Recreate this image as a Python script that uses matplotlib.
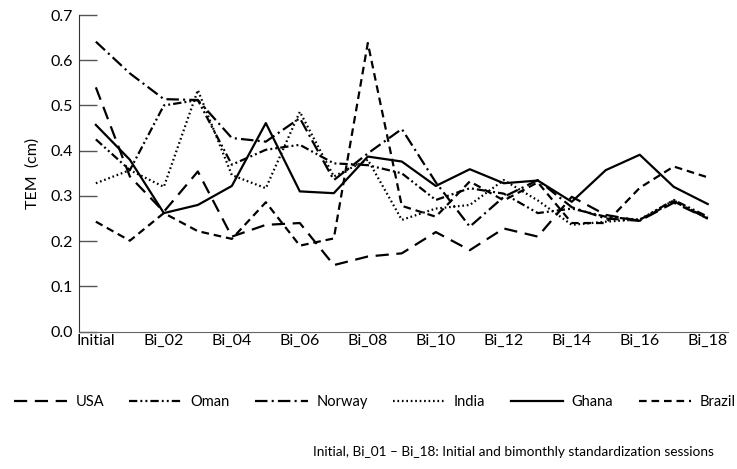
import matplotlib
matplotlib.use("Agg")
import matplotlib.pyplot as plt

plt.rcParams['font.family'] = ['Lato', 'DejaVu Sans']
plt.rcParams['lines.scale_dashes'] = False

sessions = ["Initial"] + [f"Bi_{i:02d}" for i in range(1, 19)]
tick_labels = ["Initial", "Bi_02", "Bi_04", "Bi_06", "Bi_08", "Bi_10", "Bi_12", "Bi_14", "Bi_16", "Bi_18"]

usa    = [0.540, 0.343, 0.265, 0.354, 0.210, 0.236, 0.240, 0.147, 0.166, 0.173, 0.220, 0.180, 0.228, 0.210, 0.298, 0.258, 0.245, 0.285, 0.250]
oman   = [0.425, 0.357, 0.500, 0.512, 0.369, 0.402, 0.413, 0.372, 0.368, 0.350, 0.291, 0.317, 0.305, 0.262, 0.272, 0.254, 0.247, 0.291, 0.254]
norway = [0.641, 0.571, 0.514, 0.512, 0.428, 0.420, 0.472, 0.335, 0.394, 0.448, 0.330, 0.232, 0.298, 0.335, 0.275, 0.250, 0.245, 0.288, 0.250]
india  = [0.328, 0.357, 0.320, 0.534, 0.346, 0.317, 0.486, 0.343, 0.380, 0.247, 0.272, 0.280, 0.335, 0.290, 0.236, 0.243, 0.248, 0.290, 0.250]
ghana  = [0.457, 0.380, 0.262, 0.280, 0.322, 0.461, 0.310, 0.306, 0.387, 0.376, 0.322, 0.359, 0.328, 0.334, 0.287, 0.357, 0.391, 0.320, 0.282]
brazil = [0.243, 0.201, 0.262, 0.222, 0.205, 0.286, 0.190, 0.206, 0.638, 0.278, 0.254, 0.332, 0.290, 0.330, 0.240, 0.240, 0.318, 0.365, 0.341]

series = [
    ("USA", usa, (0, (9.5, 5.5))),
    ("Oman", oman, (0, (6, 2.2, 1.4, 2.2, 1.4, 2.2))),
    ("Norway", norway, (0, (9, 3, 1.5, 3))),
    ("India", india, (0, (1.2, 2.0))),
    ("Ghana", ghana, "-"),
    ("Brazil", brazil, (0, (5.5, 3.5))),
]

fig = plt.figure(figsize=(7.37, 4.69), dpi=100)
ax = fig.add_axes([0.107, 0.293, 0.881, 0.675])

x = list(range(len(sessions)))
for name, vals, ls in series:
    ax.plot(x, vals, color="black", linestyle=ls, linewidth=1.6, label=name)

ax.set_ylim(0, 0.7)
ax.set_xlim(-0.5, 18.6)
ax.set_yticks([i / 10 for i in range(8)])
ax.set_yticklabels([f"{i/10:.1f}" for i in range(8)], fontsize=11.5)
ax.set_xticks(list(range(0, 19, 2)))
ax.set_xticklabels(tick_labels, fontsize=11.5)
ax.tick_params(axis="x", length=0, pad=2)
ax.tick_params(axis="y", direction="in", length=13, width=1, color="#555555", pad=4)
for s in ["top", "right"]:
    ax.spines[s].set_visible(False)
ax.spines["left"].set_color("#333333")
ax.spines["bottom"].set_color("#666666")
ax.set_ylabel("TEM  (cm)", fontsize=11.5, labelpad=8)

fig.legend(loc="center", bbox_to_anchor=(0.509, 0.142), ncol=6, frameon=False,
           handlelength=3.6, handletextpad=0.6, columnspacing=1.72, fontsize=10.5)

fig.text(0.696, 0.023, "Initial, Bi_01 – Bi_18: Initial and bimonthly standardization sessions",
         ha="center", va="bottom", fontsize=9.8)

fig.savefig("out.png", dpi=100)
